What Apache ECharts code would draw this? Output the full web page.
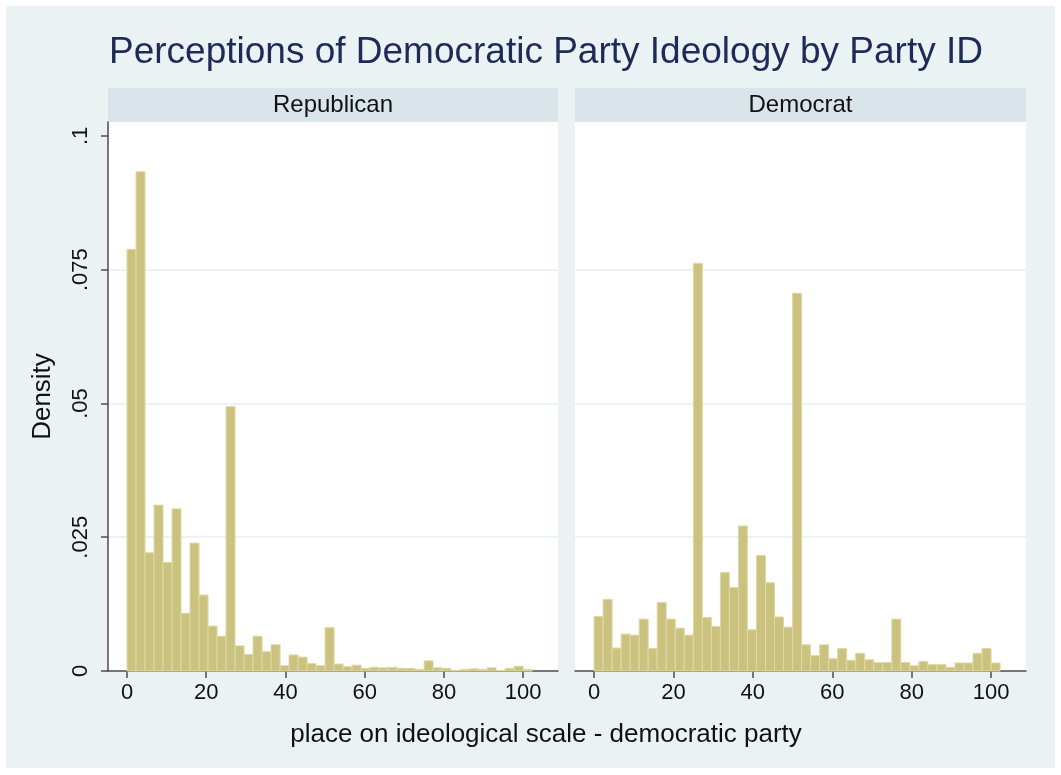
<!DOCTYPE html>
<html>
<head>
<meta charset="utf-8">
<title>Perceptions of Democratic Party Ideology by Party ID</title>
<script src="https://cdn.jsdelivr.net/npm/echarts@6/dist/echarts.min.js"></script>
<style>
  html, body { margin: 0; padding: 0; background: #ffffff; }
  #chart { width: 1061px; height: 775px; }
</style>
</head>
<body>
<div id="chart"></div>
<script>
// Histogram densities, 45 equal-width bins starting at 0
const BIN_WIDTH = 100 / 44;

const republicanDensity = [
  0.0788, 0.0933, 0.0221, 0.0310, 0.0203, 0.0303, 0.0108, 0.0239, 0.0142, 0.0084,
  0.0065, 0.0494, 0.0047, 0.0031, 0.0065, 0.0036, 0.0049, 0.0010, 0.0030, 0.0026,
  0.0014, 0.0010, 0.0081, 0.0013, 0.0008, 0.0011, 0.0005, 0.0007, 0.0006, 0.0007,
  0.0005, 0.0005, 0.0003, 0.0019, 0.0006, 0.0005, 0.0001, 0.0003, 0.0004, 0.0003,
  0.0006, 0.0001, 0.0005, 0.0009, 0.0003
];

const democratDensity = [
  0.0102, 0.0134, 0.0043, 0.0069, 0.0067, 0.0097, 0.0042, 0.0128, 0.0097, 0.0080,
  0.0067, 0.0762, 0.0100, 0.0083, 0.0184, 0.0156, 0.0271, 0.0077, 0.0216, 0.0165,
  0.0101, 0.0082, 0.0706, 0.0049, 0.0029, 0.0049, 0.0023, 0.0042, 0.0020, 0.0033,
  0.0021, 0.0016, 0.0016, 0.0097, 0.0016, 0.0010, 0.0018, 0.0012, 0.0012, 0.0007,
  0.0015, 0.0015, 0.0033, 0.0042, 0.0015
];

const panelNames = ['Republican', 'Democrat'];
const xTicks = [0, 20, 40, 60, 80, 100];
const yTicks = [0, 0.025, 0.05, 0.075, 0.1];

const FONT = '"Liberation Sans", Arial, Helvetica, sans-serif';
const BG = '#eaf2f3';
const STRIP = '#d9e5eb';
const AXIS = '#4d4d4d';
const BAR_FILL = '#cac27e';
const BAR_EDGE = '#e0d9a4';

function toBins(values) {
  return values.map((d, i) => [i * BIN_WIDTH, (i + 1) * BIN_WIDTH, d]);
}

function stataNum(v) {
  if (v === 0) return '0';
  return String(v).replace(/^0\./, '.');
}

function renderBar(params, api) {
  const p0 = api.coord([api.value(0), api.value(2)]);
  const p1 = api.coord([api.value(1), 0]);
  return {
    type: 'rect',
    shape: { x: p0[0], y: p0[1], width: p1[0] - p0[0], height: p1[1] - p0[1] },
    style: { fill: BAR_FILL, stroke: BAR_EDGE, lineWidth: 1 }
  };
}

const grids = [
  { left: 108, top: 122, width: 450, height: 549 },
  { left: 575, top: 122, width: 451, height: 549 }
];

const chart = echarts.init(document.getElementById('chart'), null, { renderer: 'canvas' });

const option = {
  backgroundColor: '#ffffff',
  animation: false,
  graphic: [
    { type: 'rect', shape: { x: 6, y: 6, width: 1049, height: 762 }, style: { fill: BG }, z: -10 },
    {
      type: 'text', x: 546, y: 53,
      style: {
        text: 'Perceptions of Democratic Party Ideology by Party ID',
        font: '37px ' + FONT, fill: '#1e2b58', textAlign: 'center', textVerticalAlign: 'middle'
      }
    },
    ...grids.map((g, i) => ({
      type: 'group',
      children: [
        { type: 'rect', shape: { x: g.left, y: 88, width: g.width, height: 34 }, style: { fill: STRIP } },
        {
          type: 'text', x: g.left + g.width / 2, y: 105,
          style: { text: panelNames[i], font: '24px ' + FONT, fill: '#111', textAlign: 'center', textVerticalAlign: 'middle' }
        }
      ]
    })),
    {
      type: 'text', x: 546, y: 735,
      style: {
        text: 'place on ideological scale - democratic party',
        font: '26px ' + FONT, fill: '#111', textAlign: 'center', textVerticalAlign: 'middle'
      }
    }
  ],
  grid: grids.map(g => Object.assign({
    show: true, backgroundColor: '#ffffff', borderWidth: 0, containLabel: false
  }, g)),
  xAxis: grids.map((g, i) => ({
    type: 'value', gridIndex: i, min: -4.8, max: 108.8,
    axisLine: { show: true, onZero: false, lineStyle: { color: AXIS, width: 1.5 } },
    axisTick: { show: true, length: 7, customValues: xTicks, lineStyle: { color: AXIS, width: 1.5 } },
    axisLabel: { customValues: xTicks, margin: 11, color: '#111', fontSize: 22, fontFamily: FONT },
    splitLine: { show: false }
  })),
  yAxis: grids.map((g, i) => ({
    type: 'value', gridIndex: i, min: 0, max: 0.1026,
    name: i === 0 ? 'Density' : '',
    nameLocation: 'middle', nameRotate: 90, nameGap: 52,
    nameTextStyle: { color: '#111', fontSize: 26, fontFamily: FONT },
    axisLine: { show: i === 0, onZero: false, lineStyle: { color: AXIS, width: 1.5 } },
    axisTick: { show: i === 0, length: 7, customValues: yTicks, lineStyle: { color: AXIS, width: 1.5 } },
    axisLabel: {
      show: i === 0, customValues: yTicks, rotate: 90, margin: 16,
      color: '#111', fontSize: 22, fontFamily: FONT, formatter: stataNum
    },
    splitLine: { show: true, showMinLine: false, showMaxLine: false, lineStyle: { color: '#e6eef2', width: 1.5 } }
  })),
  series: [republicanDensity, democratDensity].map((vals, i) => ({
    type: 'custom',
    xAxisIndex: i, yAxisIndex: i,
    renderItem: renderBar,
    encode: { x: [0, 1], y: 2 },
    data: toBins(vals)
  }))
};

chart.setOption(option);
</script>
</body>
</html>
